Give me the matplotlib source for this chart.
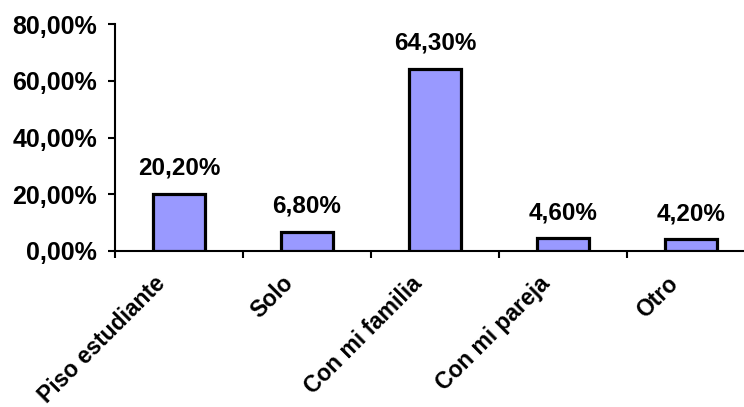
import matplotlib.pyplot as plt
from matplotlib.ticker import FuncFormatter
from matplotlib.transforms import offset_copy

plt.rcParams['font.family'] = ['Liberation Sans', 'DejaVu Sans']
plt.rcParams['font.weight'] = 'bold'

categories = ['Piso estudiante', 'Solo', 'Con mi familia', 'Con mi pareja', 'Otro']
values = [20.2, 6.8, 64.3, 4.6, 4.2]
yticks = [0, 20, 40, 60, 80]


def pct(v, pos=None):
    return ('%.2f%%' % v).replace('.', ',')


fig = plt.figure(figsize=(7.44, 4.07), dpi=100)
ax = fig.add_axes([115 / 744, 156 / 407, 640 / 744, 227 / 407])

x = range(len(categories))
ax.bar(x, values, width=0.41, color='#9999FF', edgecolor='black', linewidth=2.3, zorder=3)

for xi, v in zip(x, values):
    ax.annotate(pct(v), (xi, v), xytext=(0, 10), textcoords='offset points',
                ha='center', va='bottom', fontsize=17.5, fontweight='bold')

ax.set_xlim(-0.5, len(categories) - 0.5)
ax.set_ylim(0, 80)
ax.set_yticks(yticks)
ax.yaxis.set_major_formatter(FuncFormatter(pct))

# category ticks sit between bars; slanted names drawn below each bar
ax.set_xticks([i - 0.5 for i in range(len(categories) + 1)])
ax.set_xticklabels([])
label_trans = offset_copy(ax.get_xaxis_transform(), fig=fig, x=-18, y=-15, units='points')
for xi, name in zip(x, categories):
    ax.text(xi, 0, name, transform=label_trans, rotation=45, ha='right', va='top',
            rotation_mode='anchor', fontsize=16.5, fontweight='bold', clip_on=False)

ax.tick_params(axis='x', which='major', length=5, width=1.5, direction='out')
ax.tick_params(axis='y', length=5, width=1.5, direction='out', pad=8, labelsize=18)

for side in ['top', 'right']:
    ax.spines[side].set_visible(False)
for side in ['left', 'bottom']:
    ax.spines[side].set_linewidth(1.5)

fig.savefig('out.png', dpi=100)
